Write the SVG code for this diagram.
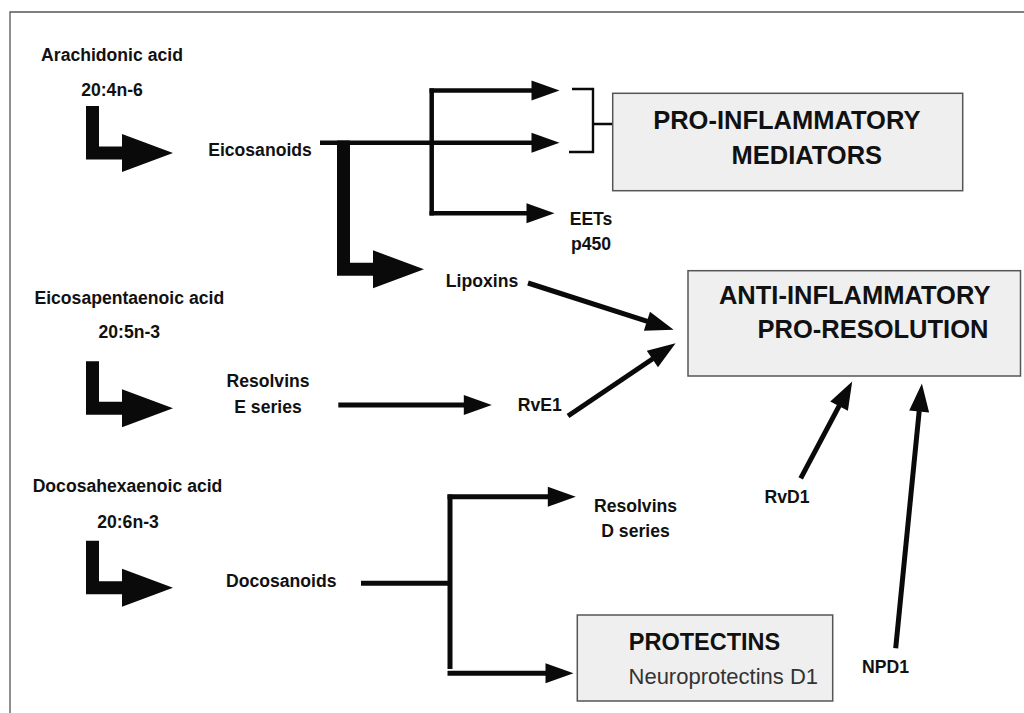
<svg xmlns="http://www.w3.org/2000/svg" xmlns:xlink="http://www.w3.org/1999/xlink" width="1024" height="713" viewBox="0 0 1024 713">
<style>
.lbl{font-family:"Liberation Sans",Arial,sans-serif;font-weight:bold;font-size:17.6px;fill:#111;text-anchor:middle}
.big{font-family:"Liberation Sans",Arial,sans-serif;font-weight:bold;font-size:25.5px;fill:#111;text-anchor:middle}
.sub{font-family:"Liberation Sans",Arial,sans-serif;font-weight:normal;font-size:22px;fill:#333;text-anchor:middle}
.box{fill:#efefef;stroke:#555;stroke-width:1.5}
.ln{fill:none;stroke:#0a0a0a;stroke-width:4.5}
.ln5{fill:none;stroke:#0a0a0a;stroke-width:5}
.br{fill:none;stroke:#0a0a0a;stroke-width:2.4}
.fat{fill:#0a0a0a}
</style>
<defs>
<marker id="ah" markerUnits="userSpaceOnUse" markerWidth="28" markerHeight="20" refX="0.5" refY="10" orient="auto" overflow="visible">
<path d="M0,0 L28,10 L0,20 Z" fill="#0a0a0a"/>
</marker>
<path id="fatL" d="M86,-47 H99 V-6.5 H122 V-19 L173,0 L122,19 V6.5 H86 Z"/>
</defs>
<rect x="0" y="0" width="1024" height="713" fill="#fff"/>
<g id="frame" fill="none" stroke="#555" stroke-width="1.3">
<path d="M10,713 V12 H1024"/>
</g>
<g id="connectors">
<use xlink:href="#fatL" href="#fatL" class="fat" y="153"/>
<use xlink:href="#fatL" href="#fatL" class="fat" y="408.3"/>
<use xlink:href="#fatL" href="#fatL" class="fat" y="587.7"/>
<path class="fat" d="M337,140.5 H350 V262.8 H373 V250.3 L424,269.3 L373,288.3 V275.8 H337 Z"/>
<path class="ln" d="M320,142.7 H532" marker-end="url(#ah)"/>
<path class="ln" d="M431.7,88.3 V215.5"/>
<path class="ln" d="M429.5,90.5 H532" marker-end="url(#ah)"/>
<path class="ln" d="M429.5,213.2 H527" marker-end="url(#ah)"/>
<path class="br" d="M572,89 H593 V152 H569 M593,124 H613"/>
<path class="ln5" d="M528,283 L647.4,321.4" marker-end="url(#ah)"/>
<path class="ln5" d="M568,416 L652.8,358.7" marker-end="url(#ah)"/>
<path class="ln5" d="M338.3,405 H464.3" marker-end="url(#ah)"/>
<path class="ln5" d="M361,583.3 H450"/>
<path class="ln5" d="M450,494.5 V669"/>
<path class="ln5" d="M447.5,496.7 H548.3" marker-end="url(#ah)"/>
<path class="ln5" d="M447.5,673.3 H546" marker-end="url(#ah)"/>
<path class="ln5" d="M800.7,478.3 L839.3,405.7" marker-end="url(#ah)"/>
<path class="ln5" d="M895.7,648.3 L919.2,410.9" marker-end="url(#ah)"/>
</g>
<g id="arachidonic">
<text class="lbl" x="112" y="61">Arachidonic acid</text>
<text class="lbl" x="112" y="96">20:4n-6</text>
</g>
<g id="eicosanoids"><text class="lbl" x="260" y="156">Eicosanoids</text></g>
<g id="eets">
<text class="lbl" x="591" y="225">EETs</text>
<text class="lbl" x="591" y="250">p450</text>
</g>
<g id="lipoxins"><text class="lbl" x="482" y="287">Lipoxins</text></g>
<g id="epa">
<text class="lbl" x="129.3" y="304">Eicosapentaenoic acid</text>
<text class="lbl" x="129.3" y="337.7">20:5n-3</text>
</g>
<g id="resolvins-e">
<text class="lbl" x="268" y="386.7">Resolvins</text>
<text class="lbl" x="268" y="413.3">E series</text>
</g>
<g id="rve1"><text class="lbl" x="539.7" y="411">RvE1</text></g>
<g id="dha">
<text class="lbl" x="127.5" y="492.3">Docosahexaenoic acid</text>
<text class="lbl" x="128" y="528.3">20:6n-3</text>
</g>
<g id="docosanoids"><text class="lbl" x="281.3" y="586.7">Docosanoids</text></g>
<g id="resolvins-d">
<text class="lbl" x="635.5" y="511.7">Resolvins</text>
<text class="lbl" x="635.5" y="537.3">D series</text>
</g>
<g id="rvd1"><text class="lbl" x="787" y="503.3">RvD1</text></g>
<g id="npd1"><text class="lbl" x="885.5" y="673.3">NPD1</text></g>
<g id="pro-inflammatory">
<rect class="box" x="612.7" y="93.3" width="350" height="97.4"/>
<text class="big" x="786.8" y="129">PRO-INFLAMMATORY</text>
<text class="big" x="806.8" y="164">MEDIATORS</text>
</g>
<g id="anti-inflammatory">
<rect class="box" x="688" y="270.7" width="332.5" height="105.3"/>
<text class="big" x="854.7" y="304.3">ANTI-INFLAMMATORY</text>
<text class="big" x="873" y="337.7">PRO-RESOLUTION</text>
</g>
<g id="protectins">
<rect class="box" x="577.3" y="615" width="255.4" height="86"/>
<text class="big" style="font-size:23.5px" x="704.5" y="650">PROTECTINS</text>
<text class="sub" x="723.3" y="684">Neuroprotectins D1</text>
</g>
</svg>
